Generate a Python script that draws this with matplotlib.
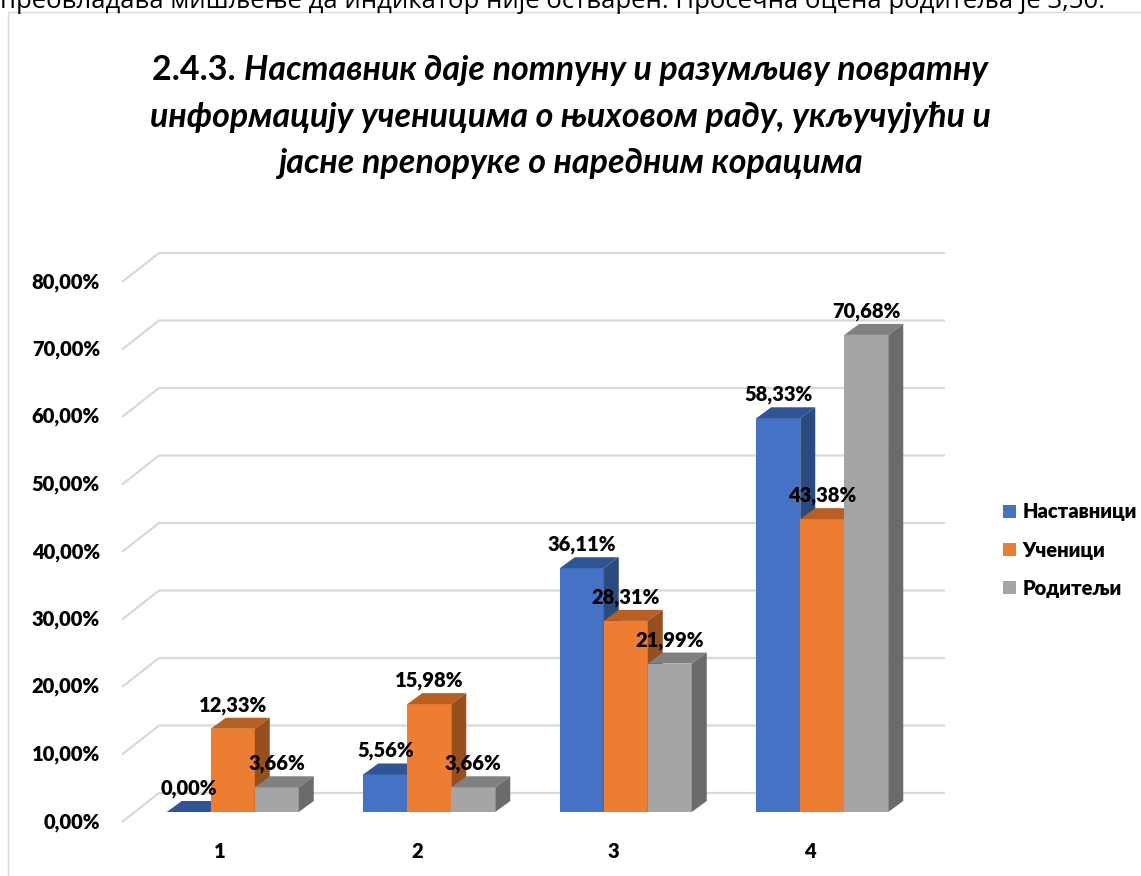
import matplotlib
matplotlib.use("Agg")
import matplotlib.pyplot as plt
from matplotlib.patches import Polygon, Rectangle, Patch

# ---------------- data ----------------
categories = ["1", "2", "3", "4"]
series_names = ["Наставници", "Ученици", "Родитељи"]
nastavnici = [0.00, 5.56, 36.11, 58.33]
ucenici = [12.33, 15.98, 28.31, 43.38]
roditelji = [3.66, 3.66, 21.99, 70.68]
y_ticks = [0, 10, 20, 30, 40, 50, 60, 70, 80]
title_num = "2.4.3."
title_lines = ["Наставник даје потпуну и разумљиву повратну",
               "информацију ученицима о њиховом раду, укључујући и",
               "јасне препоруке о наредним корацима"]
top_text = ("преовладава мишљење да индикатор није остварен. "
            "Просечна оцена родитеља је 3,50.")

# ---------------- style ----------------
front_cols = ["#4472C4", "#ED7D31", "#A5A5A5"]
top_cols = ["#2F5597", "#B85F22", "#808080"]
side_cols = ["#2A4A80", "#974F1D", "#6B6B6B"]
grid_col = "#D9D9D9"
FONT = "Lato"
LFS = 14.5
LW = "heavy"

W, H = 1141, 876
fig = plt.figure(figsize=(W / 100, H / 100), dpi=100)

# frame of the chart area
fig.patches.append(Rectangle((8 / W, -0.1), 1.2, 1.1 - 12 / H,
                             transform=fig.transFigure, fill=False,
                             edgecolor="#D9D9D9", lw=1.0))

# cropped sentence at top of page
fig.text(0.0, 1 - 8 / H, top_text, fontsize=18.5, family="Open Sans",
         ha="left", va="baseline", color="black")

# axes = front plane of the 3D box
x0px, x1px, y0px, y1px = 122, 908, 822, 282
ax = fig.add_axes([x0px / W, 1 - y0px / H, (x1px - x0px) / W, (y0px - y1px) / H])
ax.set_xlim(0.5, len(categories) + 0.5)
ax.set_ylim(0, 80)
ax.axis("off")

pxx = (x1px - x0px) / len(categories)      # px per x unit
pxy = (y0px - y1px) / 80.0                 # px per y unit
# depth offsets (converted from px to data units)
DXF, DYF = 37 / pxx, 29 / pxy              # full depth of wall
DX0, DY0 = 12.5 / pxx, 10 / pxy            # front of bars
DXB, DYB = 15 / pxx, 11 / pxy              # depth of a bar

# gridlines (diagonal + back wall)
for t in y_ticks:
    ax.plot([0.5, 0.5 + DXF, len(categories) + 0.5 + DXF],
            [t, t + DYF, t + DYF], color=grid_col, lw=1.6,
            clip_on=False, zorder=1, solid_capstyle="butt")
    ax.text(0.5 - 22 / pxx, t, f"{t:.2f}".replace(".", ",") + "%",
            ha="right", va="center", fontsize=LFS, fontweight=LW,
            family=FONT, clip_on=False)

# category labels
for i, c in enumerate(categories):
    ax.text(i + 1, -30 / pxy, c, ha="center", va="center", fontsize=LFS,
            fontweight=LW, family=FONT, clip_on=False)

# bars
series = [nastavnici, ucenici, roditelji]
bw = 44 / pxx
z = 3
for i in range(len(categories)):
    for j, vals in enumerate(series):
        v = vals[i]
        xl = i + 1 + DX0 + (j - 1.5) * bw
        bars = ax.bar(xl, v, width=bw, bottom=DY0, align="edge",
                      color=front_cols[j], zorder=z, clip_on=False,
                      linewidth=0)
        r = bars[0]
        bx, by, bwid, bh = r.get_x(), r.get_y(), r.get_width(), r.get_height()
        top = by + bh
        ax.add_patch(Polygon([(bx, top), (bx + bwid, top),
                              (bx + bwid + DXB, top + DYB), (bx + DXB, top + DYB)],
                             closed=True, facecolor=top_cols[j], lw=0,
                             zorder=z, clip_on=False))
        ax.add_patch(Polygon([(bx + bwid, by), (bx + bwid + DXB, by + DYB),
                              (bx + bwid + DXB, top + DYB), (bx + bwid, top)],
                             closed=True, facecolor=side_cols[j], lw=0,
                             zorder=z, clip_on=False))
        z += 1
        ax.text(bx + bwid / 2, top + DYB + 3 / pxy,
                f"{v:.2f}".replace(".", ",") + "%", ha="center", va="bottom",
                fontsize=LFS, fontweight=LW, family=FONT, zorder=100,
                clip_on=False)

# legend
handles = [Patch(facecolor=c, edgecolor="none") for c in front_cols]
fig.legend(handles, series_names, loc="center left",
           bbox_to_anchor=(995 / W, 1 - 550 / H), frameon=False,
           prop={"family": FONT, "weight": LW, "size": LFS},
           handlelength=0.65, handleheight=0.65, handletextpad=0.3,
           labelspacing=0.95, borderaxespad=0)

# title (first line: number upright + text italic, centred together)
fs = 24.5
renderer = fig.canvas.get_renderer()
cx = 570 / W
ys = [70, 117, 163]
tnum = fig.text(0, 1 - ys[0] / H, title_num + " ", fontsize=fs, fontweight="bold",
                family=FONT, va="center", ha="left")
tl1 = fig.text(0, 1 - ys[0] / H, title_lines[0], fontsize=fs, fontweight="bold",
               style="italic", family=FONT, va="center", ha="left")
w1 = tnum.get_window_extent(renderer).width
w2 = tl1.get_window_extent(renderer).width
start = cx - (w1 + w2) / 2 / W
tnum.set_x(start)
tl1.set_x(start + w1 / W)
for k in (1, 2):
    fig.text(cx, 1 - ys[k] / H, title_lines[k], fontsize=fs, fontweight="bold",
             style="italic", family=FONT, va="center", ha="center")

fig.savefig("out.png", dpi=100)
